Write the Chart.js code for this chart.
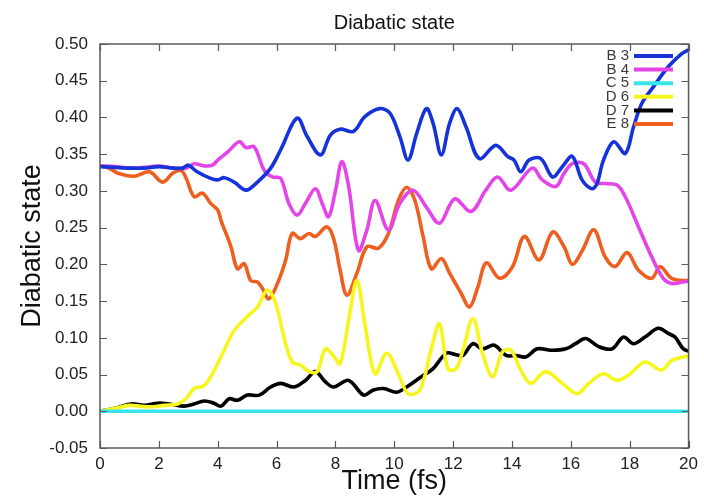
<!DOCTYPE html>
<html><head><meta charset="utf-8">
<script src="https://cdn.jsdelivr.net/npm/chart.js@4.4.0/dist/chart.umd.min.js"></script>
<style>html,body{margin:0;padding:0;background:#fff}#wrap{width:704px;height:498px}</style>
</head><body><div id="wrap"><canvas id="c" width="704" height="498"></canvas></div>
<script>
// ---- data ----
const seriesLabels = ['B 3', 'B 4', 'C 5', 'D 6', 'D 7', 'E 8'];
const seriesColors = ['#1533d9', '#e445e6', '#38e4ea', '#f6f61e', '#000000', '#ee5f1f'];

const tB3 = [0,0.5,1,1.5,2,2.5,2.8,3.0,3.3,3.76,4.0,4.22,4.56,4.96,5.35,5.8,6.14,6.7,7.04,7.49,7.83,8.16,8.61,9.0,9.5,9.85,10.19,10.47,10.76,11.09,11.32,11.6,11.88,12.14,12.44,12.89,13.45,13.85,14.07,14.3,14.58,14.98,15.38,15.71,16.05,16.38,16.72,16.89,17.11,17.46,17.85,18.13,18.41,18.81,19.31,19.77,20];
const vB3 = [0.333,0.332,0.331,0.331,0.333,0.331,0.331,0.335,0.326,0.317,0.315,0.318,0.312,0.301,0.312,0.331,0.356,0.399,0.374,0.349,0.376,0.384,0.381,0.401,0.412,0.406,0.374,0.342,0.378,0.412,0.392,0.349,0.392,0.412,0.387,0.344,0.362,0.347,0.342,0.326,0.342,0.344,0.319,0.333,0.347,0.315,0.303,0.310,0.342,0.367,0.351,0.387,0.419,0.442,0.469,0.487,0.492];

const tB4 = [0,0.5,1.06,1.5,1.96,2.52,2.92,3.2,3.54,3.82,4.0,4.34,4.73,4.96,5.24,5.58,5.86,6.14,6.42,6.7,6.98,7.32,7.55,7.77,8.0,8.22,8.45,8.78,9.07,9.35,9.8,10.19,10.64,11.09,11.54,12.05,12.61,13.11,13.51,13.96,14.69,15.03,15.49,15.77,16.05,16.44,16.83,17.17,17.57,17.85,18.3,18.75,19.14,19.42,19.82,20];
const vB4 = [0.334,0.333,0.331,0.332,0.334,0.331,0.331,0.337,0.334,0.335,0.342,0.353,0.367,0.359,0.360,0.328,0.319,0.317,0.283,0.267,0.283,0.303,0.283,0.265,0.300,0.340,0.306,0.219,0.247,0.287,0.247,0.283,0.301,0.278,0.256,0.289,0.272,0.301,0.319,0.301,0.331,0.315,0.306,0.324,0.337,0.337,0.312,0.310,0.308,0.292,0.251,0.210,0.181,0.174,0.176,0.177];

const tC5 = [0, 20];
const vC5 = [0, 0];

const tD6 = [0,0.5,1.0,1.62,2.18,2.64,2.92,3.2,3.54,3.82,4.17,4.56,5.01,5.35,5.69,5.97,6.25,6.53,6.81,7.1,7.38,7.66,7.94,8.16,8.45,8.73,9.0,9.35,9.74,10.14,10.47,10.87,11.26,11.54,11.82,12.1,12.33,12.67,13.0,13.34,13.68,13.96,14.3,14.64,15.14,15.71,16.22,16.61,17.11,17.57,18.02,18.52,19.08,19.42,19.82,20];
const vD6 = [0,0.004,0.008,0.006,0.008,0.010,0.017,0.031,0.035,0.051,0.079,0.110,0.129,0.142,0.165,0.147,0.101,0.067,0.063,0.054,0.054,0.085,0.075,0.065,0.124,0.178,0.119,0.051,0.079,0.051,0.024,0.029,0.085,0.119,0.058,0.058,0.083,0.126,0.079,0.047,0.081,0.083,0.056,0.038,0.054,0.038,0.024,0.038,0.051,0.042,0.051,0.067,0.056,0.069,0.074,0.075];

const tD7 = [0,0.5,1.06,1.51,1.96,2.35,2.86,3.2,3.54,3.87,4.11,4.39,4.67,5.01,5.41,5.8,6.14,6.59,6.98,7.32,7.66,7.94,8.45,8.96,9.29,9.63,10.08,10.42,10.92,11.32,11.77,12.1,12.33,12.67,13.0,13.4,13.8,14.13,14.47,14.86,15.38,15.83,16.16,16.5,16.95,17.4,17.79,18.13,18.52,18.97,19.31,19.54,19.82,20];
const vD7 = [0,0.004,0.010,0.008,0.011,0.010,0.007,0.010,0.014,0.011,0.007,0.017,0.015,0.022,0.022,0.033,0.038,0.033,0.042,0.054,0.040,0.033,0.042,0.022,0.029,0.031,0.026,0.033,0.047,0.058,0.079,0.077,0.076,0.092,0.085,0.090,0.076,0.076,0.074,0.085,0.083,0.085,0.092,0.099,0.088,0.085,0.101,0.092,0.101,0.113,0.106,0.101,0.085,0.082];

const tE8 = [0,0.3,0.61,1.17,1.68,2.13,2.47,2.75,2.92,3.2,3.48,3.76,4.0,4.11,4.45,4.67,4.9,5.12,5.35,5.52,5.74,6.03,6.31,6.53,6.81,7.1,7.32,7.71,7.94,8.16,8.39,8.73,9.07,9.46,9.8,10.14,10.42,10.7,10.98,11.26,11.6,11.88,12.28,12.56,12.84,13.13,13.58,14.02,14.42,14.92,15.38,15.77,16.05,16.38,16.78,17.17,17.51,17.91,18.3,18.75,19.03,19.42,19.82,20];
const vE8 = [0.334,0.331,0.324,0.320,0.326,0.312,0.324,0.328,0.318,0.292,0.297,0.283,0.274,0.260,0.224,0.194,0.201,0.178,0.176,0.167,0.153,0.174,0.206,0.242,0.235,0.242,0.238,0.251,0.235,0.192,0.158,0.188,0.224,0.222,0.242,0.287,0.305,0.287,0.238,0.194,0.208,0.188,0.160,0.142,0.169,0.202,0.181,0.197,0.238,0.206,0.244,0.224,0.200,0.218,0.247,0.210,0.197,0.216,0.192,0.181,0.197,0.181,0.178,0.178];

const xTicks = [0,2,4,6,8,10,12,14,16,18,20];
const yTicks = [-0.05,0,0.05,0.10,0.15,0.20,0.25,0.30,0.35,0.40,0.45,0.50];

const allT = [tB3, tB4, tC5, tD6, tD7, tE8];
const allV = [vB3, vB4, vC5, vD6, vD7, vE8];

const datasets = seriesLabels.map((lab, i) => ({
  label: lab,
  data: allT[i].map((t, k) => ({x: t, y: allV[i][k]})),
  borderColor: seriesColors[i],
  backgroundColor: seriesColors[i],
  borderWidth: 3.6,
  pointRadius: 0,
  tension: 0.35,
  fill: false
}));

const FONT = '"Liberation Sans", Arial, Helvetica, sans-serif';

const framePlugin = {
  id: 'frame',
  afterDatasetsDraw(chart) {
    const {ctx, chartArea: a, scales} = chart;
    ctx.save();
    ctx.strokeStyle = '#5a5a5a';
    ctx.lineWidth = 1.5;
    ctx.strokeRect(a.left, a.top, a.right - a.left, a.bottom - a.top);
    ctx.lineWidth = 1.2;
    ctx.beginPath();
    yTicks.forEach(v => {
      const y = Math.round(scales.y.getPixelForValue(v)) + 0.5;
      ctx.moveTo(a.left, y); ctx.lineTo(a.left + 7, y);
      ctx.moveTo(a.right, y); ctx.lineTo(a.right - 7, y);
    });
    xTicks.forEach(v => {
      const x = Math.round(scales.x.getPixelForValue(v)) + 0.5;
      ctx.moveTo(x, a.bottom); ctx.lineTo(x, a.bottom - 7);
      ctx.moveTo(x, a.top); ctx.lineTo(x, a.top + 7);
    });
    ctx.stroke();
    // legend (gnuplot style: text then line sample)
    ctx.font = '15px ' + FONT;
    ctx.textAlign = 'right';
    ctx.textBaseline = 'middle';
    chart.data.datasets.forEach((ds, i) => {
      const y = 56 + i * 13.6;
      ctx.fillStyle = '#3a3a3a';
      ctx.fillText(ds.label, 629, y);
      ctx.strokeStyle = ds.borderColor;
      ctx.lineWidth = 4;
      ctx.beginPath(); ctx.moveTo(634, y); ctx.lineTo(673, y); ctx.stroke();
    });
    // title centred over the plot area
    ctx.font = '20px ' + FONT;
    ctx.fillStyle = '#111';
    ctx.textAlign = 'center';
    ctx.fillText('Diabatic state', (a.left + a.right) / 2, 23);
    ctx.restore();
  }
};

new Chart(document.getElementById('c'), {
  type: 'line',
  data: {datasets},
  options: {
    responsive: false,
    animation: false,
    devicePixelRatio: 1,
    layout: {padding: {top: 44, right: 12, left: 0, bottom: 0}},
    plugins: {legend: {display: false}, tooltip: {enabled: false}, title: {display: false}},
    scales: {
      x: {
        type: 'linear', min: 0, max: 20,
        afterFit: s => { s.height = 50; },
        afterBuildTicks: s => { s.ticks = xTicks.map(v => ({value: v})); },
        grid: {display: false, drawTicks: false},
        border: {display: false},
        ticks: {font: {size: 17, family: FONT}, color: '#222', padding: 6, maxRotation: 0,
                callback: v => String(v)},
        title: {display: true, text: 'Time (fs)', font: {size: 27, family: FONT}, color: '#111',
                padding: {top: 0, bottom: 0}}
      },
      y: {
        type: 'linear', min: -0.05, max: 0.5,
        afterFit: s => { s.width = 100; },
        afterBuildTicks: s => { s.ticks = yTicks.map(v => ({value: v})); },
        grid: {display: false, drawTicks: false},
        border: {display: false},
        ticks: {font: {size: 17, family: FONT}, color: '#222', padding: 12,
                callback: v => Number(v).toFixed(2)},
        title: {display: true, text: 'Diabatic state', font: {size: 27, family: FONT}, color: '#111',
                padding: {top: 16, bottom: 0}}
      }
    }
  },
  plugins: [framePlugin]
});
</script>
</body></html>
